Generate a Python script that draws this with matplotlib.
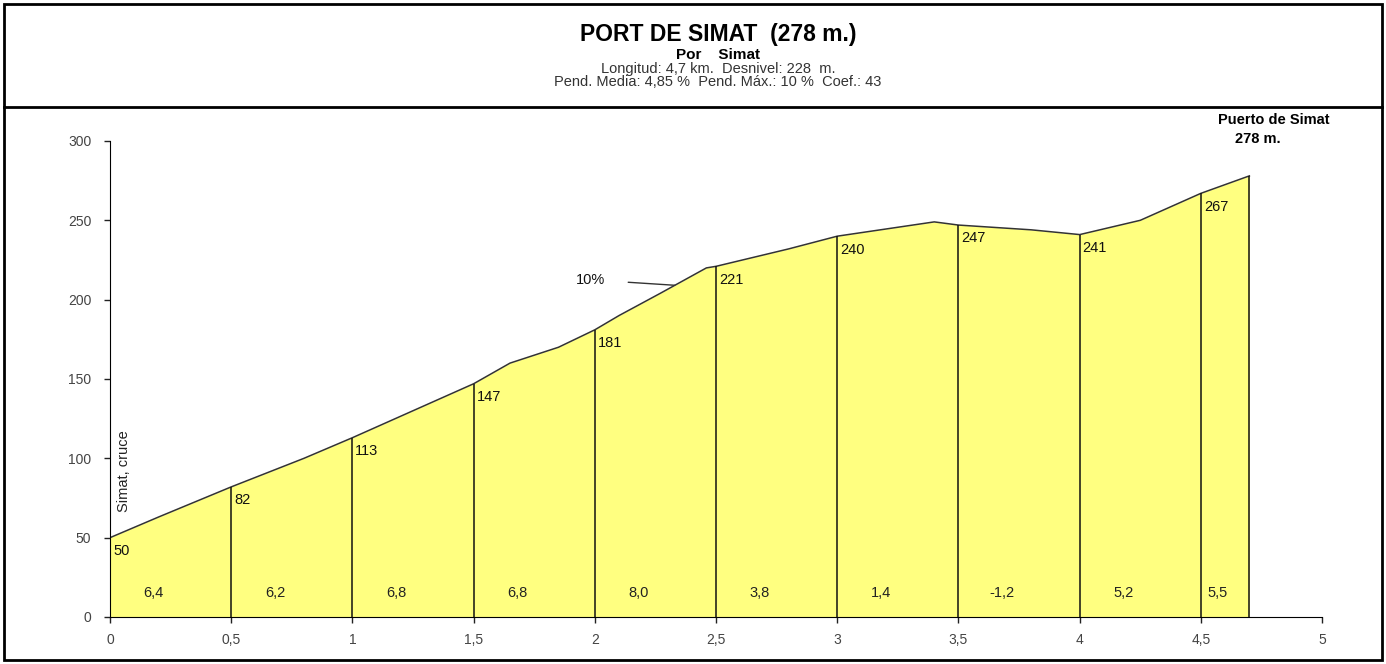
import numpy as np
import matplotlib
matplotlib.use("Agg")
import matplotlib.pyplot as plt
from matplotlib.patches import Rectangle
from matplotlib.lines import Line2D

plt.rcParams['font.family'] = ['Liberation Sans', 'DejaVu Sans']

# profile (km, m)
dist = [0, 0.2, 0.5, 0.8, 1.0, 1.25, 1.5, 1.65, 1.85, 2.0, 2.1, 2.27, 2.46, 2.5,
        2.8, 3.0, 3.4, 3.5, 3.8, 4.0, 4.25, 4.5, 4.7]
elev = [50, 63, 82, 100, 113, 130, 147, 160, 170, 181, 190, 204, 220, 221,
        232, 240, 249, 247, 244, 241, 250, 267, 278]

marks = [0, 0.5, 1, 1.5, 2, 2.5, 3, 3.5, 4, 4.5]
mark_labels = ["50", "82", "113", "147", "181", "221", "240", "247", "241", "267"]
grades = ["6,4", "6,2", "6,8", "6,8", "8,0", "3,8", "1,4", "-1,2", "5,2", "5,5"]
end_km = 4.7

x_ticks = [0, 0.5, 1, 1.5, 2, 2.5, 3, 3.5, 4, 4.5, 5]
x_ticklabels = ["0", "0,5", "1", "1,5", "2", "2,5", "3", "3,5", "4", "4,5", "5"]
y_ticks = [0, 50, 100, 150, 200, 250, 300]

fig = plt.figure(figsize=(13.86, 6.64), dpi=100)
ax = fig.add_axes([0.0794, 0.0708, 0.8745, 0.7169])

ax.fill_between(dist, elev, 0, color="#ffff80", lw=0)
ax.plot(dist, elev, color="#333333", lw=1.1)

tops = np.interp(marks[1:] + [end_km], dist, elev)
ax.vlines(marks[1:] + [end_km], 0, tops, color="#111111", lw=1.1)

for m, lab in zip(marks, mark_labels):
    h = np.interp(m, dist, elev)
    ax.text(m + 0.012, h - 4, lab, fontsize=10.5, ha="left", va="top", color="#111111")

bounds = marks + [end_km]
for i, g in enumerate(grades):
    a, b = bounds[i], bounds[i + 1]
    cx = min(a + 0.18, (a + b) / 2 - 0.03)
    ax.text(cx, 15, g, fontsize=10.5, ha="center", va="center", color="#222222")

ax.text(0.058, 92, "Simat, cruce", rotation=90, fontsize=10.5, ha="center", va="center",
        color="#222222")

ax.text(4.80, 313, "Puerto de Simat", fontsize=10.5, fontweight="bold", ha="center",
        va="center", clip_on=False)
ax.text(4.735, 301, "278 m.", fontsize=10.5, fontweight="bold", ha="center",
        va="center", clip_on=False)

tip = 2.33
ax.annotate("10%", xy=(tip, np.interp(tip, dist, elev)), xytext=(1.98, 212.5),
            fontsize=10.5, ha="center", va="center", color="#111111",
            arrowprops=dict(arrowstyle="-", color="#333333", lw=1,
                            shrinkA=15, shrinkB=0))

ax.set_xlim(0, 5)
ax.set_ylim(0, 300)
ax.set_xticks(x_ticks)
ax.set_xticklabels(x_ticklabels)
ax.set_yticks(y_ticks)
ax.spines["top"].set_visible(False)
ax.spines["right"].set_visible(False)
ax.tick_params(axis="both", labelsize=10, colors="#222222", labelcolor="#444444",
               length=4.5, width=1)
ax.tick_params(axis="x", pad=7)
ax.tick_params(axis="y", pad=9)

# frame and title panel
fig.patches.append(Rectangle((4 / 1386, 4 / 664), 1378 / 1386, 656 / 664,
                             transform=fig.transFigure, fill=False, lw=2,
                             edgecolor="black"))
fig.lines.append(Line2D([4 / 1386, 1382 / 1386], [1 - 107 / 664, 1 - 107 / 664],
                        transform=fig.transFigure, color="black", lw=2))

fig.text(0.518, 1 - 35 / 664, "PORT DE SIMAT  (278 m.)", fontsize=16.5,
         fontweight="bold", ha="center", va="center")
fig.text(0.518, 1 - 55 / 664, "Por    Simat", fontsize=11, fontweight="bold",
         ha="center", va="center")
fig.text(0.518, 1 - 69 / 664, "Longitud: 4,7 km.  Desnivel: 228  m.", fontsize=10.5,
         ha="center", va="center", color="#333333")
fig.text(0.518, 1 - 82 / 664, "Pend. Media: 4,85 %  Pend. Máx.: 10 %  Coef.: 43",
         fontsize=10.5, ha="center", va="center", color="#333333")

fig.savefig("out.png", dpi=100)
